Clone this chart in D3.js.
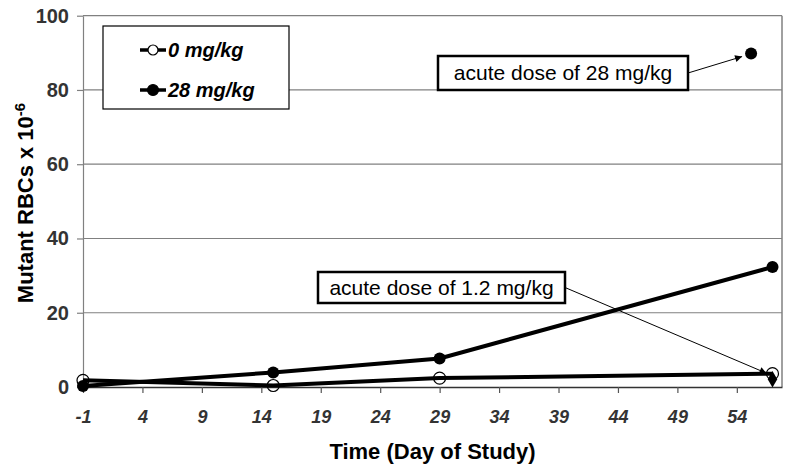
<!DOCTYPE html>
<html>
<head>
<meta charset="utf-8">
<script src="https://cdn.jsdelivr.net/npm/d3@7"></script>
<style>
  body { margin: 0; background: #fff; }
  svg { font-family: "Liberation Sans", Arial, sans-serif; }
</style>
</head>
<body>
<div id="container"></div>
<script>
const width = 800;
const height = 470;
const font = '"Liberation Sans", Arial, sans-serif';

// data
const days = [-1, 15, 29, 57];
const zeroDose = [1.8, 0.4, 2.4, 3.6];     // 0 mg/kg, open circles
const highDose = [0.3, 3.9, 7.7, 32.3];    // 28 mg/kg, filled circles
const acuteHigh = [{ day: 55.2, value: 89.8 }]; // acute dose of 28 mg/kg
const acuteLow = [{ day: 57, value: 2.1 }];     // acute dose of 1.2 mg/kg
const xTicks = [-1, 4, 9, 14, 19, 24, 29, 34, 39, 44, 49, 54];
const yTicks = [0, 20, 40, 60, 80, 100];

const xScale = d3.scaleLinear().domain([-1, 57.8]).range([83, 782]);
const yScale = d3.scaleLinear().domain([0, 100]).range([387, 15.7]);

const svg = d3.select('#container')
  .append('svg')
  .attr('width', width)
  .attr('height', height)
  .attr('font-family', font);

const defs = svg.append('defs');
defs.append('marker')
  .attr('id', 'arrow')
  .attr('viewBox', '0 0 10 10')
  .attr('refX', 10).attr('refY', 5)
  .attr('markerWidth', 10).attr('markerHeight', 7)
  .attr('markerUnits', 'userSpaceOnUse')
  .attr('orient', 'auto')
  .append('path')
  .attr('d', 'M0,0L10,5L0,10Z')
  .attr('fill', '#000');

// gridlines
svg.append('g')
  .selectAll('line')
  .data(yTicks.filter(d => d > 0))
  .join('line')
  .attr('x1', xScale.range()[0]).attr('x2', xScale.range()[1])
  .attr('y1', d => yScale(d)).attr('y2', d => yScale(d))
  .attr('stroke', '#808080').attr('stroke-width', 1.2);

// right border of plot area
svg.append('line')
  .attr('x1', xScale.range()[1]).attr('x2', xScale.range()[1])
  .attr('y1', yScale(100)).attr('y2', yScale(0))
  .attr('stroke', '#808080').attr('stroke-width', 1.5);

// y axis
svg.append('g')
  .attr('transform', `translate(${xScale.range()[0]},0)`)
  .call(d3.axisLeft(yScale).tickValues(yTicks).tickSize(6).tickSizeOuter(0).tickPadding(8))
  .call(g => g.select('.domain').attr('stroke', '#808080').attr('stroke-width', 1.2))
  .call(g => g.selectAll('.tick line').attr('stroke', '#808080').attr('stroke-width', 1.2))
  .call(g => g.selectAll('.tick text')
    .attr('font-size', 20).attr('font-weight', 'bold').attr('fill', '#333')
    .attr('font-family', font));

// x axis
svg.append('g')
  .attr('transform', `translate(0,${yScale(0)})`)
  .call(d3.axisBottom(xScale).tickValues(xTicks).tickFormat(d => String(d))
    .tickSize(6).tickSizeOuter(0).tickPadding(17))
  .call(g => g.select('.domain').attr('stroke', '#333').attr('stroke-width', 1.5))
  .call(g => g.selectAll('.tick line').attr('stroke', '#555').attr('stroke-width', 1.2))
  .call(g => g.selectAll('.tick text')
    .attr('font-size', 18).attr('font-weight', 'bold').attr('font-style', 'italic').attr('fill', '#333')
    .attr('font-family', font));

// axis titles
svg.append('text')
  .attr('x', (xScale.range()[0] + xScale.range()[1]) / 2)
  .attr('y', 459)
  .attr('text-anchor', 'middle')
  .attr('font-size', 22).attr('font-weight', 'bold')
  .text('Time (Day of Study)');

const yTitle = svg.append('text')
  .attr('transform', 'translate(33,203) rotate(-90)')
  .attr('text-anchor', 'middle')
  .attr('font-size', 22).attr('font-weight', 'bold');
yTitle.append('tspan').text('Mutant RBCs x 10');
yTitle.append('tspan').attr('dy', -8).attr('font-size', 15).text('-6');

const line = d3.line()
  .x((d, i) => xScale(days[i]))
  .y(d => yScale(d));

// series lines
svg.append('path')
  .datum(zeroDose)
  .attr('d', line)
  .attr('fill', 'none').attr('stroke', '#000').attr('stroke-width', 4);
svg.append('path')
  .datum(highDose)
  .attr('d', line)
  .attr('fill', 'none').attr('stroke', '#000').attr('stroke-width', 4);

// markers
svg.append('g')
  .selectAll('circle')
  .data(zeroDose)
  .join('circle')
  .attr('cx', (d, i) => xScale(days[i])).attr('cy', d => yScale(d))
  .attr('r', 6)
  .attr('fill', 'none').attr('stroke', '#000').attr('stroke-width', 1.2);

svg.append('g')
  .selectAll('circle')
  .data(highDose)
  .join('circle')
  .attr('cx', (d, i) => xScale(days[i])).attr('cy', d => yScale(d))
  .attr('r', 6)
  .attr('fill', '#000');

svg.append('g')
  .selectAll('circle')
  .data(acuteHigh)
  .join('circle')
  .attr('cx', d => xScale(d.day)).attr('cy', d => yScale(d.value))
  .attr('r', 6)
  .attr('fill', '#000');

svg.append('g')
  .selectAll('path')
  .data(acuteLow)
  .join('path')
  .attr('transform', d => `translate(${xScale(d.day)},${yScale(d.value)})`)
  .attr('d', d3.symbol(d3.symbolDiamond, 80))
  .attr('fill', '#000');

// annotation boxes
function callout(x, y, w, h, label, tx, ty) {
  svg.append('line')
    .attr('x1', x + w).attr('y1', y + h / 2)
    .attr('x2', tx).attr('y2', ty)
    .attr('stroke', '#000').attr('stroke-width', 1)
    .attr('marker-end', 'url(#arrow)');
  svg.append('rect')
    .attr('x', x).attr('y', y).attr('width', w).attr('height', h)
    .attr('fill', '#fff').attr('stroke', '#000').attr('stroke-width', 2.5);
  svg.append('text')
    .attr('x', x + w / 2).attr('y', y + h / 2 + 7)
    .attr('text-anchor', 'middle')
    .attr('font-size', 21)
    .text(label);
}

callout(438, 56, 250, 34, 'acute dose of 28 mg/kg',
  xScale(acuteHigh[0].day) - 9, yScale(acuteHigh[0].value) + 3);
callout(318, 272, 247, 31, 'acute dose of 1.2 mg/kg',
  xScale(acuteLow[0].day) - 6, yScale(acuteLow[0].value) - 6);

// legend
const legend = svg.append('g');
legend.append('rect')
  .attr('x', 103).attr('y', 26).attr('width', 186).attr('height', 83)
  .attr('fill', '#fff').attr('stroke', '#000').attr('stroke-width', 1.2);

const legendItems = [
  { label: '0 mg/kg', filled: false, y: 50 },
  { label: '28 mg/kg', filled: true, y: 90 }
];
const li = legend.selectAll('.item')
  .data(legendItems)
  .join('g')
  .attr('class', 'item')
  .attr('transform', d => `translate(140,${d.y})`);
li.append('line')
  .attr('x1', 0).attr('x2', 26)
  .attr('stroke', '#000').attr('stroke-width', 3.5);
li.append('circle')
  .attr('cx', 13).attr('r', d => d.filled ? 5.5 : 5)
  .attr('fill', d => d.filled ? '#000' : '#fff')
  .attr('stroke', '#000').attr('stroke-width', 1.2);
li.append('text')
  .attr('x', 28).attr('y', 7)
  .attr('font-size', 20).attr('font-weight', 'bold').attr('font-style', 'italic')
  .text(d => d.label);
</script>
</body>
</html>
